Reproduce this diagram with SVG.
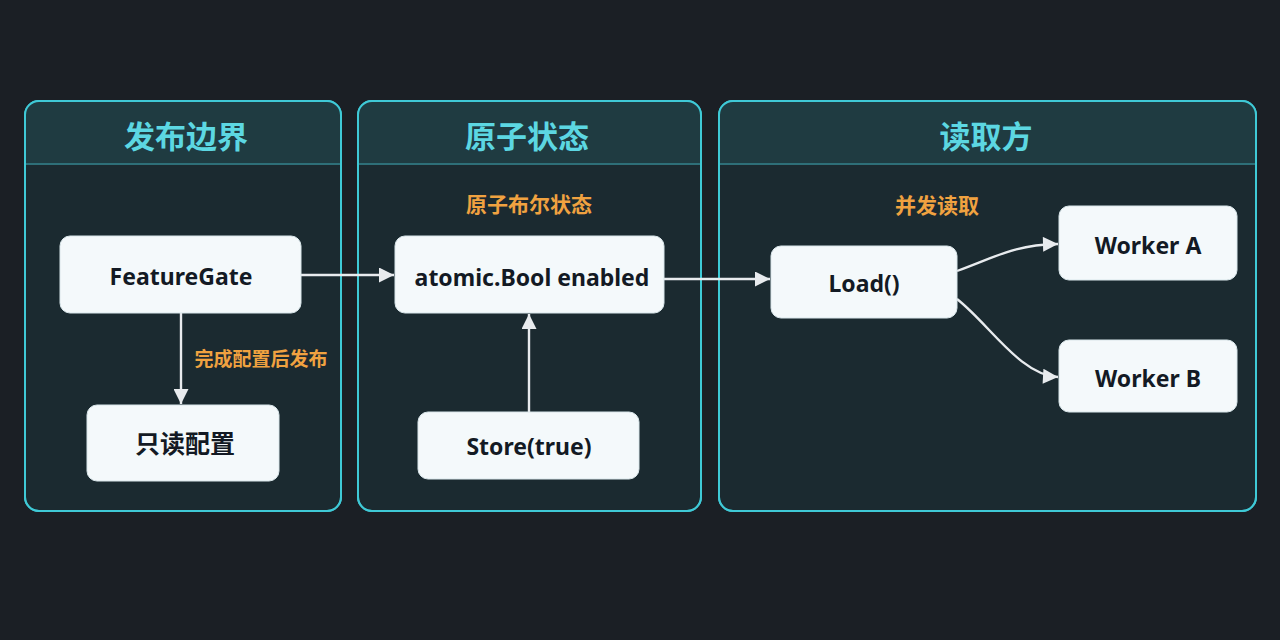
<svg xmlns="http://www.w3.org/2000/svg" width="1280" height="640" viewBox="0 0 1280 640">
<style>
.panel{fill:#1b2a30;stroke:#3fc9d6;stroke-width:2}
.band{fill:#1f3b41}
.sep{stroke:#2e6f78;stroke-width:2}
.title{font-family:"Noto Sans CJK SC","Noto Sans",sans-serif;font-weight:700;font-size:31px;fill:#5cd7e2;text-anchor:middle}
.node{fill:#f4f9fb;stroke:#d9e6ea;stroke-width:1}
.ntext{font-family:"Noto Sans","Noto Sans CJK SC",sans-serif;font-weight:700;font-size:23px;fill:#131a24;text-anchor:middle}
.lbl{font-family:"Noto Sans CJK SC","Noto Sans",sans-serif;font-weight:700;font-size:21px;fill:#f0a240;text-anchor:middle}
.edge{fill:none;stroke:#e8ebee;stroke-width:2.4}
</style>
<defs>
<marker id="arr" viewBox="0 0 10 10" refX="10" refY="5" markerWidth="16" markerHeight="15" markerUnits="userSpaceOnUse" orient="auto">
<path d="M0,0 L10,5 L0,10 z" fill="#e8ebee"/>
</marker>
<clipPath id="c1"><rect x="25" y="101" width="316" height="410" rx="14"/></clipPath>
<clipPath id="c2"><rect x="358" y="101" width="343" height="410" rx="14"/></clipPath>
<clipPath id="c3"><rect x="719" y="101" width="537" height="410" rx="14"/></clipPath>
</defs>
<rect width="1280" height="640" fill="#1b1f25"/>

<g id="panel-publish">
<rect class="panel" x="25" y="101" width="316" height="410" rx="14"/>
<rect class="band" x="25" y="101" width="316" height="63" clip-path="url(#c1)"/>
<line class="sep" x1="26" y1="164" x2="340" y2="164"/>
<rect x="25" y="101" width="316" height="410" rx="14" fill="none" stroke="#3fc9d6" stroke-width="2"/>
<text class="title" x="186" y="148">发布边界</text>
</g>
<g id="panel-atomic">
<rect class="panel" x="358" y="101" width="343" height="410" rx="14"/>
<rect class="band" x="358" y="101" width="343" height="63" clip-path="url(#c2)"/>
<line class="sep" x1="359" y1="164" x2="700" y2="164"/>
<rect x="358" y="101" width="343" height="410" rx="14" fill="none" stroke="#3fc9d6" stroke-width="2"/>
<text class="title" x="527" y="148">原子状态</text>
<text class="lbl" x="529" y="212">原子布尔状态</text>
</g>
<g id="panel-readers">
<rect class="panel" x="719" y="101" width="537" height="410" rx="14"/>
<rect class="band" x="719" y="101" width="537" height="63" clip-path="url(#c3)"/>
<line class="sep" x1="720" y1="164" x2="1255" y2="164"/>
<rect x="719" y="101" width="537" height="410" rx="14" fill="none" stroke="#3fc9d6" stroke-width="2"/>
<text class="title" x="986" y="148">读取方</text>
<text class="lbl" x="937" y="213">并发读取</text>
</g>

<g id="connectors">
<line class="edge" x1="301" y1="275" x2="394" y2="275" marker-end="url(#arr)"/>
<line class="edge" x1="664" y1="279" x2="770" y2="279" marker-end="url(#arr)"/>
<line class="edge" x1="181" y1="313" x2="181" y2="404" marker-end="url(#arr)"/>
<line class="edge" x1="529" y1="412" x2="529" y2="314" marker-end="url(#arr)"/>
<path class="edge" d="M957,271 C1000,255 1015,245 1058,244" marker-end="url(#arr)"/>
<path class="edge" d="M957,299 C990,325 1020,375 1058,377" marker-end="url(#arr)"/>
<text class="lbl" x="261" y="366" style="font-size:19px">完成配置后发布</text>
</g>

<g id="n-featuregate">
<rect class="node" x="60" y="236" width="241" height="77" rx="10"/>
<text class="ntext" x="181" y="285">FeatureGate</text>
</g>
<g id="n-readonly">
<rect class="node" x="87" y="405" width="192" height="76" rx="10"/>
<text class="ntext" x="185" y="453" style="font-size:25px">只读配置</text>
</g>
<g id="n-atomic">
<rect class="node" x="395" y="236" width="269" height="77" rx="10"/>
<text class="ntext" x="532" y="286">atomic.Bool enabled</text>
</g>
<g id="n-store">
<rect class="node" x="418" y="412" width="221" height="67" rx="10"/>
<text class="ntext" x="529" y="455">Store(true)</text>
</g>
<g id="n-load">
<rect class="node" x="771" y="246" width="186" height="72" rx="10"/>
<text class="ntext" x="864" y="292">Load()</text>
</g>
<g id="n-workera">
<rect class="node" x="1059" y="206" width="178" height="74" rx="10"/>
<text class="ntext" x="1148" y="254">Worker A</text>
</g>
<g id="n-workerb">
<rect class="node" x="1059" y="340" width="178" height="72" rx="10"/>
<text class="ntext" x="1148" y="387">Worker B</text>
</g>
</svg>
